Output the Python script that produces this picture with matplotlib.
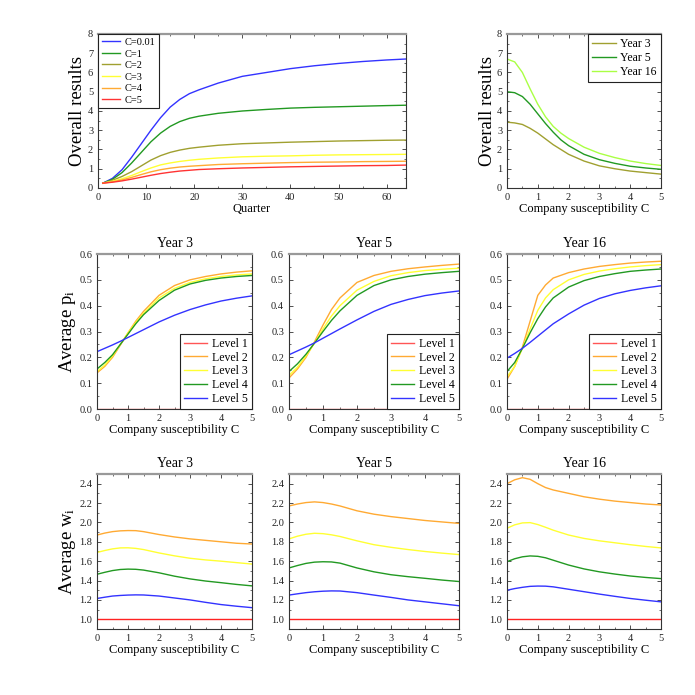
import numpy as np
import matplotlib
matplotlib.use('Agg')
import matplotlib.pyplot as plt
from matplotlib.ticker import MultipleLocator

plt.rcParams['font.family'] = ['Liberation Serif', 'DejaVu Serif']
plt.rcParams['mathtext.fontset'] = 'custom'
plt.rcParams['mathtext.rm'] = 'Liberation Serif'
plt.rcParams['mathtext.it'] = 'Liberation Serif:italic'

# ---- data: overall results vs quarter ----
quarters = [1, 3, 5, 7, 9, 11, 13, 15, 17, 19, 21, 25, 30, 35, 40, 45, 50, 55, 60, 64]
c_labels = ['C=0.01', 'C=1', 'C=2', 'C=3', 'C=4', 'C=5']
res_c001 = [0.25, 0.5, 0.95, 1.6, 2.3, 3.0, 3.65, 4.2, 4.6, 4.9, 5.1, 5.45, 5.8, 6.0, 6.2, 6.35, 6.47, 6.57, 6.65, 6.7]
res_c1 = [0.25, 0.45, 0.8, 1.3, 1.85, 2.4, 2.85, 3.2, 3.45, 3.62, 3.73, 3.88, 4.0, 4.08, 4.15, 4.19, 4.22, 4.25, 4.28, 4.3]
res_c2 = [0.25, 0.4, 0.6, 0.85, 1.15, 1.45, 1.68, 1.85, 1.97, 2.06, 2.12, 2.22, 2.3, 2.34, 2.38, 2.41, 2.44, 2.46, 2.48, 2.49]
res_c3 = [0.25, 0.35, 0.48, 0.65, 0.85, 1.04, 1.2, 1.3, 1.38, 1.44, 1.49, 1.56, 1.62, 1.65, 1.67, 1.7, 1.72, 1.73, 1.74, 1.75]
res_c4 = [0.25, 0.32, 0.42, 0.55, 0.7, 0.84, 0.95, 1.03, 1.09, 1.13, 1.16, 1.22, 1.26, 1.29, 1.32, 1.34, 1.35, 1.37, 1.38, 1.39]
res_c5 = [0.25, 0.3, 0.37, 0.46, 0.56, 0.66, 0.75, 0.82, 0.88, 0.92, 0.96, 1.0, 1.04, 1.07, 1.1, 1.12, 1.14, 1.16, 1.17, 1.19]
c_colors = ['#3333ff', '#229922', '#a0a030', '#ffff33', '#ffaa33', '#ff3333']

# ---- data: overall results vs susceptibility ----
c_top = [0, 0.25, 0.5, 0.75, 1.0, 1.25, 1.5, 1.75, 2.0, 2.5, 3.0, 3.5, 4.0, 4.5, 5.0]
year_labels = ['Year 3', 'Year 5', 'Year 16']
overall_y3 = [3.42, 3.38, 3.3, 3.1, 2.85, 2.55, 2.25, 2.0, 1.75, 1.4, 1.15, 1.0, 0.88, 0.8, 0.72]
overall_y5 = [5.0, 4.95, 4.75, 4.35, 3.85, 3.35, 2.9, 2.5, 2.2, 1.75, 1.47, 1.28, 1.13, 1.04, 0.97]
overall_y16 = [6.7, 6.55, 6.0, 5.15, 4.35, 3.7, 3.2, 2.85, 2.57, 2.12, 1.8, 1.58, 1.4, 1.27, 1.17]
year_colors = ['#a0a030', '#229922', '#aaff44']

# ---- data: average p_i and w_i per level ----
c_grid = [0, 0.25, 0.5, 0.75, 1.0, 1.25, 1.5, 2.0, 2.5, 3.0, 3.5, 4.0, 4.5, 5.0]
level_labels = ['Level 1', 'Level 2', 'Level 3', 'Level 4', 'Level 5']
level_colors = ['#ff5555', '#ffaa33', '#ffff33', '#229922', '#3333ff']

p_year3 = [
    [0.0] * 14,
    [0.14, 0.165, 0.2, 0.247, 0.295, 0.34, 0.378, 0.44, 0.478, 0.5, 0.513, 0.523, 0.53, 0.535],
    [0.145, 0.17, 0.205, 0.25, 0.295, 0.335, 0.37, 0.43, 0.467, 0.49, 0.504, 0.513, 0.519, 0.523],
    [0.155, 0.18, 0.21, 0.25, 0.29, 0.33, 0.365, 0.42, 0.46, 0.484, 0.498, 0.507, 0.513, 0.517],
    [0.222, 0.235, 0.248, 0.262, 0.277, 0.292, 0.307, 0.337, 0.363, 0.385, 0.403, 0.418, 0.429, 0.438],
]
p_year5 = [
    [0.0] * 14,
    [0.12, 0.155, 0.2, 0.26, 0.325, 0.385, 0.43, 0.49, 0.517, 0.533, 0.543, 0.55, 0.556, 0.561],
    [0.13, 0.162, 0.205, 0.255, 0.31, 0.36, 0.4, 0.46, 0.494, 0.516, 0.528, 0.536, 0.541, 0.545],
    [0.145, 0.175, 0.212, 0.255, 0.3, 0.343, 0.38, 0.44, 0.478, 0.5, 0.513, 0.522, 0.528, 0.533],
    [0.21, 0.225, 0.24, 0.256, 0.274, 0.292, 0.31, 0.345, 0.378, 0.405, 0.424, 0.439, 0.449, 0.457],
]
p_year16 = [
    [0.0] * 14,
    [0.115, 0.165, 0.24, 0.34, 0.44, 0.48, 0.507, 0.528, 0.542, 0.552, 0.559, 0.565, 0.569, 0.572],
    [0.125, 0.165, 0.235, 0.31, 0.382, 0.43, 0.462, 0.5, 0.521, 0.534, 0.543, 0.55, 0.555, 0.559],
    [0.145, 0.18, 0.235, 0.295, 0.35, 0.395, 0.43, 0.472, 0.497, 0.513, 0.524, 0.533, 0.538, 0.542],
    [0.197, 0.215, 0.235, 0.258, 0.282, 0.306, 0.33, 0.368, 0.402, 0.428, 0.446, 0.459, 0.469, 0.477],
]

w_year3 = [
    [1.0] * 14,
    [1.87, 1.89, 1.905, 1.913, 1.916, 1.915, 1.905, 1.875, 1.85, 1.83, 1.815, 1.80, 1.785, 1.777],
    [1.69, 1.71, 1.727, 1.737, 1.738, 1.732, 1.72, 1.685, 1.655, 1.63, 1.613, 1.60, 1.585, 1.57],
    [1.465, 1.485, 1.503, 1.514, 1.518, 1.516, 1.508, 1.48, 1.445, 1.417, 1.395, 1.378, 1.36, 1.345],
    [1.215, 1.228, 1.24, 1.246, 1.25, 1.252, 1.251, 1.24, 1.22, 1.2, 1.175, 1.152, 1.135, 1.12],
]
w_year5 = [
    [1.0] * 14,
    [2.17, 2.19, 2.205, 2.212, 2.205, 2.19, 2.17, 2.12, 2.085, 2.06, 2.04, 2.02, 2.005, 1.99],
    [1.83, 1.858, 1.878, 1.888, 1.884, 1.872, 1.855, 1.81, 1.77, 1.743, 1.72, 1.70, 1.683, 1.668],
    [1.53, 1.555, 1.577, 1.59, 1.594, 1.592, 1.58, 1.53, 1.49, 1.46, 1.44, 1.423, 1.405, 1.39],
    [1.25, 1.263, 1.275, 1.284, 1.29, 1.293, 1.292, 1.275, 1.25, 1.226, 1.2, 1.18, 1.16, 1.14],
]
w_year16 = [
    [1.0] * 14,
    [2.40, 2.44, 2.462, 2.445, 2.40, 2.36, 2.335, 2.30, 2.265, 2.24, 2.22, 2.205, 2.19, 2.18],
    [1.94, 1.975, 1.995, 1.998, 1.978, 1.95, 1.92, 1.87, 1.835, 1.81, 1.79, 1.77, 1.752, 1.737],
    [1.595, 1.625, 1.645, 1.654, 1.65, 1.635, 1.61, 1.56, 1.52, 1.49, 1.467, 1.447, 1.432, 1.42],
    [1.3, 1.317, 1.33, 1.34, 1.343, 1.342, 1.335, 1.31, 1.285, 1.26, 1.237, 1.215, 1.197, 1.18],
]

TICK_FS = 7.5
LABEL_FS = 9


def style_axes(ax):
    for side in ['left', 'bottom', 'right']:
        ax.spines[side].set_color('#333333')
        ax.spines[side].set_linewidth(0.8)
    ax.spines['top'].set_color('#999999')
    ax.spines['top'].set_linewidth(1.6)
    ax.tick_params(which='both', direction='in', top=True, right=True,
                   labelsize=TICK_FS, colors='#333333', labelcolor='#222222')
    ax.tick_params(which='major', length=3, width=0.6)
    ax.tick_params(which='minor', length=1.5, width=0.5)


def legend_box(ax, fs=8.5, spacing=0.15, hl=2.0, **kw):
    leg = ax.legend(fancybox=False, framealpha=1, fontsize=fs, handlelength=hl,
                    handletextpad=0.4, borderaxespad=0, borderpad=0.35,
                    labelspacing=spacing, **kw)
    leg.get_frame().set_edgecolor('#222222')
    leg.get_frame().set_linewidth(0.8)
    return leg


fig = plt.figure(figsize=(6.95, 6.95), dpi=100)

# top-left: overall results over quarters
ax = fig.add_axes([0.141, 0.7295, 0.443, 0.2216])
for vals, lab, col in zip([res_c001, res_c1, res_c2, res_c3, res_c4, res_c5], c_labels, c_colors):
    ax.plot(quarters, vals, color=col, lw=1.0, label=lab)
ax.set_xlim(0, 64)
ax.set_ylim(0, 8)
ax.xaxis.set_major_locator(MultipleLocator(10))
ax.xaxis.set_minor_locator(MultipleLocator(5))
ax.yaxis.set_major_locator(MultipleLocator(1))
ax.yaxis.set_minor_locator(MultipleLocator(0.5))
ax.set_xlabel('Quarter', fontsize=LABEL_FS, labelpad=1)
ax.set_ylabel('Overall results', fontsize=13.5, labelpad=1)
style_axes(ax)
legend_box(ax, fs=7.5, spacing=0.22, hl=1.8, loc='upper left')

# top-right: overall results vs susceptibility
ax = fig.add_axes([0.7295, 0.7295, 0.2216, 0.2216])
for vals, lab, col in zip([overall_y3, overall_y5, overall_y16], year_labels, year_colors):
    ax.plot(c_top, vals, color=col, lw=1.0, label=lab)
ax.set_xlim(0, 5)
ax.set_ylim(0, 8)
ax.xaxis.set_major_locator(MultipleLocator(1))
ax.xaxis.set_minor_locator(MultipleLocator(0.5))
ax.yaxis.set_major_locator(MultipleLocator(1))
ax.yaxis.set_minor_locator(MultipleLocator(0.5))
ax.set_xlabel('Company susceptibility C', fontsize=LABEL_FS, labelpad=1)
ax.set_ylabel('Overall results', fontsize=13.5, labelpad=1)
style_axes(ax)
legend_box(ax, loc='upper right')

col_x = [0.1396, 0.4158, 0.7295]
col_w = [0.223, 0.2446, 0.2216]
titles = ['Year 3', 'Year 5', 'Year 16']

# middle row: average p_i
for i, data in enumerate([p_year3, p_year5, p_year16]):
    ax = fig.add_axes([col_x[i], 0.4115, col_w[i], 0.223])
    for vals, lab, col in zip(data, level_labels, level_colors):
        ax.plot(c_grid, vals, color=col, lw=1.0, label=lab)
    ax.set_xlim(0, 5)
    ax.set_ylim(0, 0.6)
    ax.xaxis.set_major_locator(MultipleLocator(1))
    ax.xaxis.set_minor_locator(MultipleLocator(0.5))
    ax.yaxis.set_major_locator(MultipleLocator(0.1))
    ax.yaxis.set_minor_locator(MultipleLocator(0.05))
    ax.yaxis.set_major_formatter(lambda v, p: '%.1f' % v)
    ax.set_title(titles[i], fontsize=10, pad=5)
    ax.set_xlabel('Company susceptibility C', fontsize=LABEL_FS, labelpad=1)
    if i == 0:
        ax.set_ylabel(r'Average p$_\mathrm{i}$', fontsize=13.5, labelpad=1)
    style_axes(ax)
    legend_box(ax, loc='lower right')

# bottom row: average w_i
for i, data in enumerate([w_year3, w_year5, w_year16]):
    ax = fig.add_axes([col_x[i], 0.095, col_w[i], 0.223])
    for vals, lab, col in zip(data, level_labels, level_colors):
        ax.plot(c_grid, vals, color='#ff2222' if lab == 'Level 1' else col, lw=1.0)
    ax.set_xlim(0, 5)
    ax.set_ylim(0.9, 2.5)
    ax.xaxis.set_major_locator(MultipleLocator(1))
    ax.xaxis.set_minor_locator(MultipleLocator(0.5))
    ax.set_yticks(np.arange(1.0, 2.41, 0.2))
    ax.yaxis.set_minor_locator(MultipleLocator(0.1))
    ax.yaxis.set_major_formatter(lambda v, p: '%.1f' % v)
    ax.set_title(titles[i], fontsize=10, pad=5)
    ax.set_xlabel('Company susceptibility C', fontsize=LABEL_FS, labelpad=1)
    if i == 0:
        ax.set_ylabel(r'Average w$_\mathrm{i}$', fontsize=13.5, labelpad=1)
    style_axes(ax)

fig.savefig('out.png', dpi=100)
